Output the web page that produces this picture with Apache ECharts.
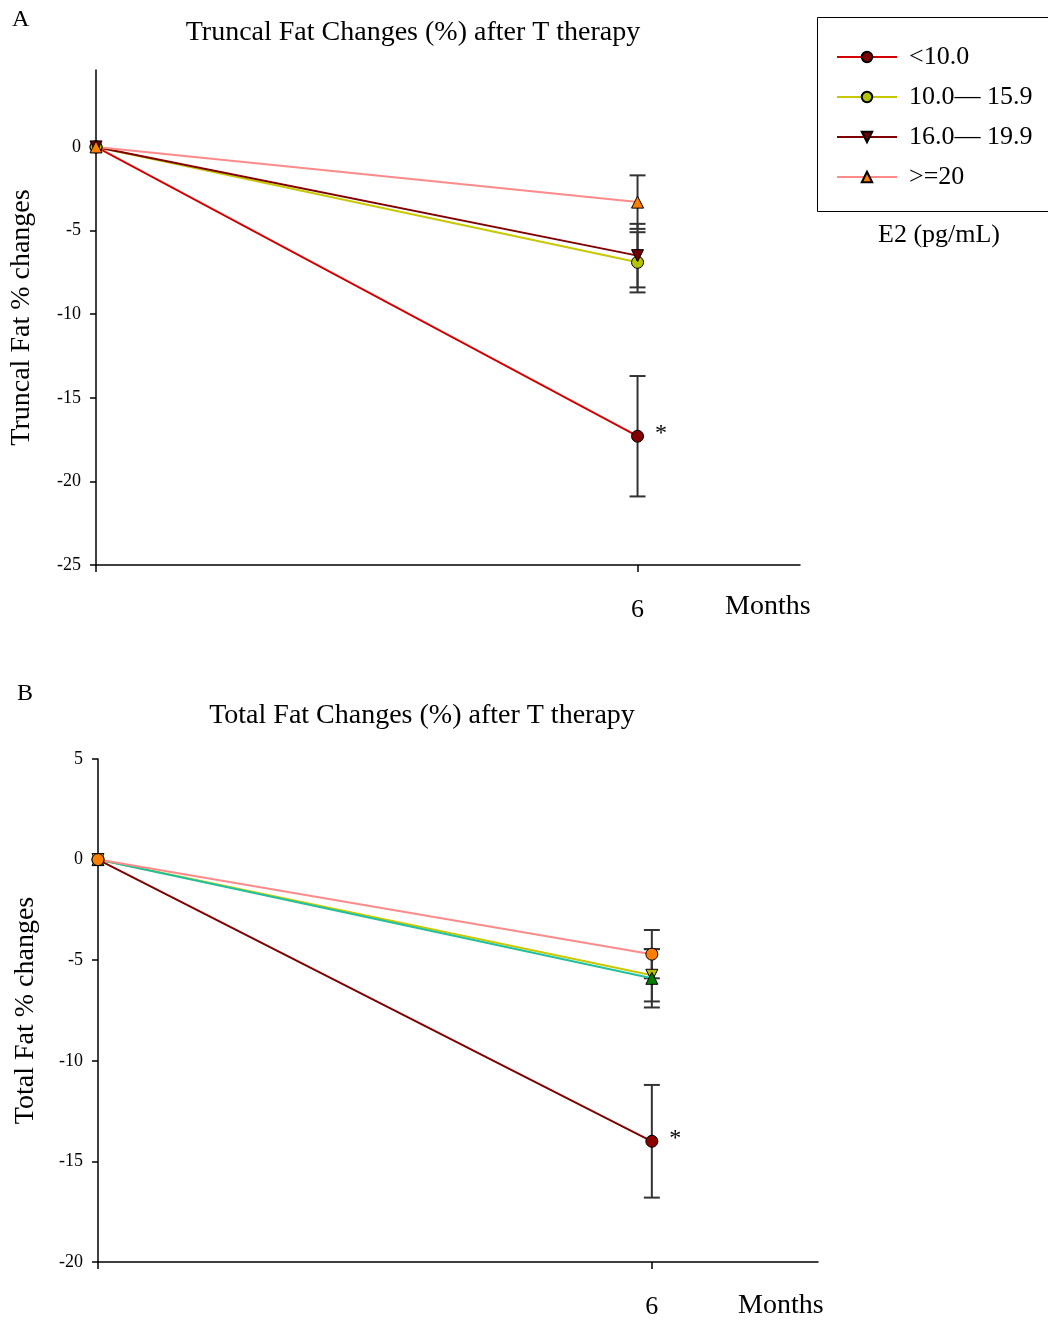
<!DOCTYPE html>
<html>
<head>
    <meta charset="utf-8"/>
    <title>Fat Changes after T therapy</title>
    <script src="https://cdn.jsdelivr.net/npm/echarts@6/dist/echarts.min.js"></script>
</head>
<body style="margin:0;background:#fff;">
<div id="main" style="width:1048px;height:1320px;"></div>
<script type="text/javascript">
    // 数据
    var months = [0, 6];
    var groupNames = ['<10.0', '10.0— 15.9', '16.0— 19.9', '>=20'];

    // A: Truncal fat (mean at 0 and 6 months), error at 6 months
    var truncalLow = [0, -17.3];
    var truncalMid1 = [0, -6.9];
    var truncalMid2 = [0, -6.5];
    var truncalHigh = [0, -3.3];
    var truncalErr = [3.6, 1.8, 1.9, 1.6];

    // B: Total fat
    var totalLow = [0, -14.0];
    var totalMid1 = [0, -5.75];
    var totalMid2 = [0, -5.9];
    var totalHigh = [0, -4.7];
    var totalErr = [2.8, 1.3, 1.45, 1.2];

    var yTicksA = [-25, -20, -15, -10, -5, 0];
    var yTicksB = [-20, -15, -10, -5, 0, 5];

    var font = 'Liberation Serif';

    function pts(arr, star) {
        return arr.map(function (v, i) {
            var item = {value: [months[i], v]};
            if (star && i === arr.length - 1) {
                item.label = {
                    show: true, formatter: '*', position: 'right', distance: 11,
                    offset: [0, -3], fontSize: 24, color: '#000', fontFamily: font
                };
            }
            return item;
        });
    }

    function lineSeries(name, arr, idx, lineColor, symbol, fill, star) {
        return {
            name: name,
            type: 'line',
            xAxisIndex: idx,
            yAxisIndex: idx,
            data: pts(arr, star),
            symbol: symbol,
            symbolSize: 12,
            showAllSymbol: true,
            z: 3,
            lineStyle: {color: lineColor, width: 2},
            itemStyle: {color: fill, borderColor: '#000', borderWidth: 1},
            emphasis: {disabled: true}
        };
    }

    function errSeries(idx, means, errs) {
        var d = means.map(function (m, i) {
            return [6, m - errs[i], m + errs[i]];
        });
        return {
            type: 'custom',
            xAxisIndex: idx,
            yAxisIndex: idx,
            z: 2,
            silent: true,
            data: d,
            encode: {x: 0, y: [1, 2]},
            renderItem: function (params, api) {
                var lo = api.coord([api.value(0), api.value(1)]);
                var hi = api.coord([api.value(0), api.value(2)]);
                var w = 8;
                var st = {stroke: '#333', lineWidth: 2};
                return {
                    type: 'group',
                    children: [
                        {type: 'line', shape: {x1: lo[0], y1: lo[1], x2: hi[0], y2: hi[1]}, style: st},
                        {type: 'line', shape: {x1: lo[0] - w, y1: lo[1], x2: lo[0] + w, y2: lo[1]}, style: st},
                        {type: 'line', shape: {x1: hi[0] - w, y1: hi[1], x2: hi[0] + w, y2: hi[1]}, style: st}
                    ]
                };
            }
        };
    }

    function xAxis(idx) {
        return {
            type: 'value', gridIndex: idx, min: 0, max: 7.8,
            axisLine: {onZero: false, lineStyle: {color: '#000', width: 1.5}},
            axisTick: {customValues: [0, 6], length: 7, lineStyle: {color: '#000', width: 1.5}},
            axisLabel: {customValues: [6], margin: 32, fontSize: 26, color: '#000', fontFamily: font},
            splitLine: {show: false}
        };
    }

    function yAxis(idx, min, max, ticks, name, gap) {
        return {
            type: 'value', gridIndex: idx, min: min, max: max,
            name: name, nameLocation: 'middle', nameGap: gap, nameRotate: 90,
            nameTextStyle: {fontSize: 28, color: '#000', fontFamily: font},
            axisLine: {onZero: false, lineStyle: {color: '#000', width: 1.5}},
            axisTick: {customValues: ticks, length: 6, lineStyle: {color: '#000', width: 1.5}},
            axisLabel: {customValues: ticks, margin: 15, fontSize: 18, color: '#000', fontFamily: font},
            splitLine: {show: false}
        };
    }

    var chart = echarts.init(document.getElementById('main'));

    var option = {
        backgroundColor: '#fff',
        animation: false,
        title: [
            {text: 'Truncal Fat Changes (%) after T therapy', left: 408, top: 14, textAlign: 'center',
                textStyle: {fontSize: 28, fontWeight: 'normal', color: '#000', fontFamily: font}},
            {text: 'Total Fat Changes (%) after T therapy', left: 417, top: 697, textAlign: 'center',
                textStyle: {fontSize: 28, fontWeight: 'normal', color: '#000', fontFamily: font}}
        ],
        legend: {
            data: groupNames,
            orient: 'vertical',
            left: 831,
            top: 39,
            itemWidth: 60,
            itemHeight: 13,
            itemGap: 14,
            selectedMode: false,
            textStyle: {fontSize: 26, color: '#000', fontFamily: font, lineHeight: 26, padding: [0, 0, 0, 7]}
        },
        graphic: [
            {type: 'rect', shape: {x: 817.5, y: 17.5, width: 240, height: 194},
                style: {fill: 'none', stroke: '#000', lineWidth: 1}},
            {type: 'text', left: 878, top: 222,
                style: {text: 'E2 (pg/mL)', fontSize: 26, fill: '#000', fontFamily: font}},
            {type: 'text', left: 12, top: 8, style: {text: 'A', fontSize: 24, fill: '#000', fontFamily: font}},
            {type: 'text', left: 17, top: 682, style: {text: 'B', fontSize: 24, fill: '#000', fontFamily: font}},
            {type: 'text', left: 725, top: 593, style: {text: 'Months', fontSize: 28, fill: '#000', fontFamily: font}},
            {type: 'text', left: 738, top: 1292, style: {text: 'Months', fontSize: 28, fill: '#000', fontFamily: font}}
        ],
        grid: [
            {left: 95, top: 70, width: 705, height: 495},
            {left: 98, top: 759, width: 720, height: 503}
        ],
        xAxis: [xAxis(0), xAxis(1)],
        yAxis: [
            yAxis(0, -25, 4.6, yTicksA, 'Truncal Fat % changes', 60),
            yAxis(1, -20, 5, yTicksB, 'Total Fat % changes', 58)
        ],
        series: [
            errSeries(0, [truncalLow[1], truncalMid1[1], truncalMid2[1], truncalHigh[1]], truncalErr),
            lineSeries(groupNames[0], truncalLow, 0, '#d40000', 'circle', '#800000', true),
            lineSeries(groupNames[1], truncalMid1, 0, '#c8c800', 'circle', '#b4c400', false),
            lineSeries(groupNames[2], truncalMid2, 0, '#800000', 'path://M0,0 L10,0 L5,10 Z', '#700000', false),
            lineSeries(groupNames[3], truncalHigh, 0, '#ff8a8a', 'triangle', '#ff8000', false),

            errSeries(1, [totalLow[1], totalMid1[1], totalMid2[1], totalHigh[1]], totalErr),
            lineSeries('B <10.0', totalLow, 1, '#800000', 'circle', '#8b0000', true),
            lineSeries('B 10.0-15.9', totalMid1, 1, '#c8c800', 'path://M0,0 L10,0 L5,10 Z', '#b4c000', false),
            lineSeries('B 16.0-19.9', totalMid2, 1, '#20c0a0', 'triangle', '#008000', false),
            lineSeries('B >=20', totalHigh, 1, '#ff8a8a', 'circle', '#ff8000', false)
        ]
    };

    chart.setOption(option);
</script>
</body>
</html>
